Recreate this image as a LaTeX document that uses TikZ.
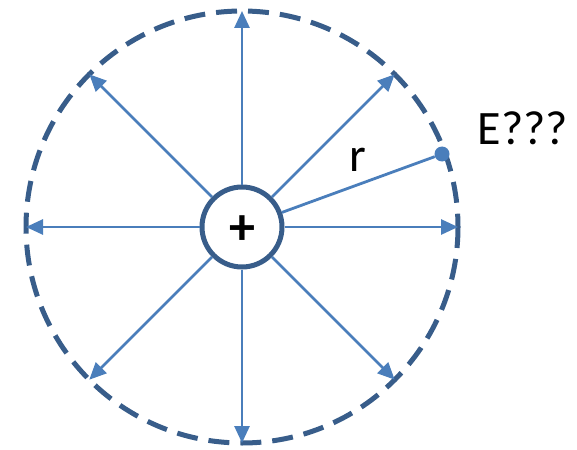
\documentclass[tikz,border=0pt]{standalone}
\usepackage{fontspec}
\setmainfont{Carlito}
\usetikzlibrary{arrows.meta,calc}
\definecolor{fieldblue}{HTML}{4A7EBB}
\definecolor{rimblue}{HTML}{385D8A}

\begin{document}
\begin{tikzpicture}[x=1pt, y=-1pt,
    fieldline/.style={fieldblue, line width=2.8pt, -{Triangle[length=17pt, width=15pt]}},
    charge/.style={circle, draw=rimblue, line width=5pt, minimum size=80pt, inner sep=0pt},
    sphere/.style={rimblue, line width=5pt, dash pattern=on 21pt off 11pt},
    lbl/.style={font=\fontsize{48}{54}\selectfont}]
    \useasboundingbox (0,0) rectangle (577,449);

    % Gaussian sphere
    \draw[sphere] (242,227) circle (216);

    % Point charge
    \node[charge] (q) at (242,227) {};
    \node[font=\fontsize{52}{58}\selectfont\bfseries] (plus) at (242,230) {+};

    % Field lines
    \foreach \a in {0,45,...,315}
        \coordinate (s\a) at ($(242,227)+(\a:216)$);
    \foreach \a in {0,45,...,315}
        \draw[fieldline] (q) -- (s\a);

    % Field point at distance r
    \node[circle, fill=fieldblue, inner sep=0pt, minimum size=15pt] (p) at (442,154) {};
    \draw[fieldblue, line width=2.8pt] (q) -- (p);
    \node[lbl] (rlab) at (358,160) {r};
    \node[lbl] (elab) at (523,128) {E???};
\end{tikzpicture}
\end{document}
